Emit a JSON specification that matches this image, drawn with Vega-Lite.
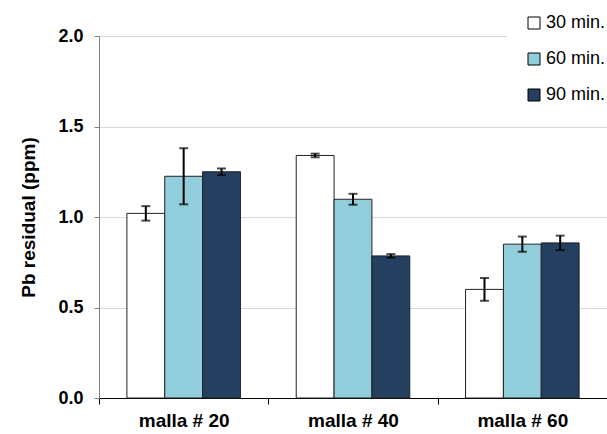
{
  "$schema": "https://vega.github.io/schema/vega-lite/v6.json",
  "width": 508,
  "height": 362,
  "autosize": {"type": "none"},
  "padding": {"left": 99, "top": 36, "right": 0, "bottom": 36},
  "background": "white",
  "config": {
    "font": "Liberation Sans",
    "view": {"stroke": null}
  },
  "data": {
    "values": [
      {"malla": "malla # 20", "tiempo": "30 min.", "valor": 1.02, "err": 0.04},
      {"malla": "malla # 20", "tiempo": "60 min.", "valor": 1.225, "err": 0.155},
      {"malla": "malla # 20", "tiempo": "90 min.", "valor": 1.25, "err": 0.018},
      {"malla": "malla # 40", "tiempo": "30 min.", "valor": 1.34, "err": 0.01},
      {"malla": "malla # 40", "tiempo": "60 min.", "valor": 1.098, "err": 0.03},
      {"malla": "malla # 40", "tiempo": "90 min.", "valor": 0.785, "err": 0.01},
      {"malla": "malla # 60", "tiempo": "30 min.", "valor": 0.60, "err": 0.063},
      {"malla": "malla # 60", "tiempo": "60 min.", "valor": 0.85, "err": 0.042},
      {"malla": "malla # 60", "tiempo": "90 min.", "valor": 0.857, "err": 0.04}
    ]
  },
  "transform": [
    {"calculate": "datum.valor - datum.err", "as": "lo"},
    {"calculate": "datum.valor + datum.err", "as": "hi"}
  ],
  "encoding": {
    "x": {
      "field": "malla", "type": "nominal",
      "scale": {"paddingInner": 0, "paddingOuter": 0},
      "axis": {
        "title": null, "labelAngle": 0, "labelFontSize": 19, "labelFontWeight": "bold",
        "labelColor": "#000", "labelPadding": 7, "tickBand": "extent", "tickSize": 6,
        "tickColor": "#000", "domainColor": "#000", "domainWidth": 1
      }
    },
    "xOffset": {
      "field": "tiempo", "type": "nominal",
      "scale": {"paddingInner": 0, "paddingOuter": 0.737}
    }
  },
  "layer": [
    {
      "mark": {"type": "bar", "stroke": "#222", "strokeWidth": 1},
      "encoding": {
        "y": {
          "field": "valor", "type": "quantitative",
          "scale": {"domain": [0, 2]},
          "axis": {
            "title": "Pb residual (ppm)", "titleFontSize": 19, "titleFontWeight": "bold",
            "titleColor": "#000", "titlePadding": 19,
            "values": [0, 0.5, 1, 1.5, 2], "format": ".1f",
            "labelFontSize": 18, "labelFontWeight": "bold", "labelColor": "#000", "labelPadding": 11,
            "tickSize": 5, "tickColor": "#808080", "domainColor": "#808080",
            "gridColor": "#d9d9d9", "gridWidth": 1
          }
        },
        "fill": {
          "field": "tiempo", "type": "nominal",
          "scale": {"range": ["#ffffff", "#92cddc", "#243f60"]},
          "legend": {
            "title": null, "orient": "none", "legendX": 408, "legendY": -40,
            "symbolType": "square", "symbolSize": 144, "symbolStrokeColor": "#000",
            "symbolStrokeWidth": 1, "labelFontSize": 18, "labelColor": "#000",
            "rowPadding": 18, "labelOffset": 3,
            "fillColor": "white", "padding": 18
          }
        }
      }
    },
    {
      "mark": {"type": "rule", "color": "#000", "strokeWidth": 2},
      "encoding": {
        "y": {"field": "lo", "type": "quantitative"},
        "y2": {"field": "hi"}
      }
    },
    {
      "mark": {"type": "tick", "color": "#000", "thickness": 2, "size": 9},
      "encoding": {"y": {"field": "lo", "type": "quantitative"}}
    },
    {
      "mark": {"type": "tick", "color": "#000", "thickness": 2, "size": 9},
      "encoding": {"y": {"field": "hi", "type": "quantitative"}}
    }
  ]
}
